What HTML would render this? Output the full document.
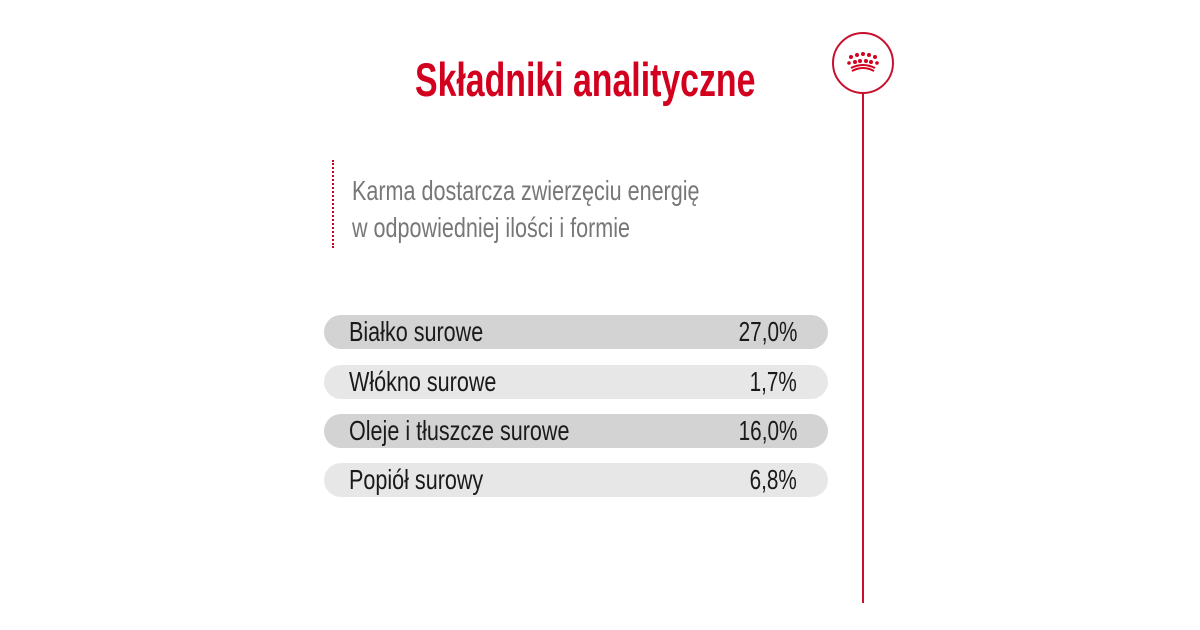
<!DOCTYPE html>
<html><head><meta charset="utf-8"><style>
body{margin:0;width:1200px;height:630px;background:#fff;position:relative;overflow:hidden;font-family:"Liberation Sans Narrow","Liberation Sans",sans-serif}
.t{position:absolute;white-space:nowrap;transform-origin:left top}
.row{position:absolute;left:324px;width:504px;height:34px;border-radius:17px}
.lab{position:absolute;left:25px;top:1px;font-size:28px;color:#1a1a1a;white-space:nowrap;transform:scaleX(0.77);transform-origin:left top}
.val{position:absolute;right:31px;top:1px;font-size:28px;color:#1a1a1a;white-space:nowrap;transform:scaleX(0.74);transform-origin:right top}
</style></head><body>
<div class="t" style="left:415px;top:52px;font-size:47px;font-weight:bold;color:#d2001e;transform:scaleX(0.72)">Składniki analityczne</div>
<div style="position:absolute;left:332px;top:160px;height:88px;border-left:2.5px dotted #d2001e"></div>
<div class="t" style="left:352px;top:172px;font-size:28px;color:#777;line-height:37px;transform:scaleX(0.77)">Karma dostarcza zwierzęciu energię<br>w odpowiedniej ilości i formie</div>
<svg style="position:absolute;left:0;top:0" width="1200" height="630">
<circle cx="863" cy="63" r="30" fill="none" stroke="#c8102e" stroke-width="2"/>
<line x1="863" y1="93" x2="863" y2="603" stroke="#c8102e" stroke-width="2"/>
<g fill="#d2001e"><circle cx="851" cy="57" r="2"/><circle cx="857" cy="55" r="2"/><circle cx="863" cy="54" r="2"/><circle cx="869" cy="55" r="2"/><circle cx="875" cy="57" r="2"/>
<circle cx="855" cy="62" r="2"/><circle cx="860" cy="61" r="2"/><circle cx="866" cy="61" r="2"/><circle cx="871" cy="62" r="2"/><circle cx="849" cy="63" r="1.8"/><circle cx="877" cy="63" r="1.8"/></g>
<path d="M851 68 Q863 62 875 68" stroke="#d2001e" stroke-width="2" fill="none"/>
<path d="M852 71 Q863 65 874 71" stroke="#d2001e" stroke-width="2" fill="none"/>
</svg>
<div class="row" style="top:315px;background:#d3d3d3"><span class="lab">Białko surowe</span><span class="val">27,0%</span></div>
<div class="row" style="top:365px;background:#e7e7e7"><span class="lab">Włókno surowe</span><span class="val">1,7%</span></div>
<div class="row" style="top:414px;background:#d3d3d3"><span class="lab">Oleje i tłuszcze surowe</span><span class="val">16,0%</span></div>
<div class="row" style="top:463px;background:#e7e7e7"><span class="lab">Popiół surowy</span><span class="val">6,8%</span></div>
</body></html>
